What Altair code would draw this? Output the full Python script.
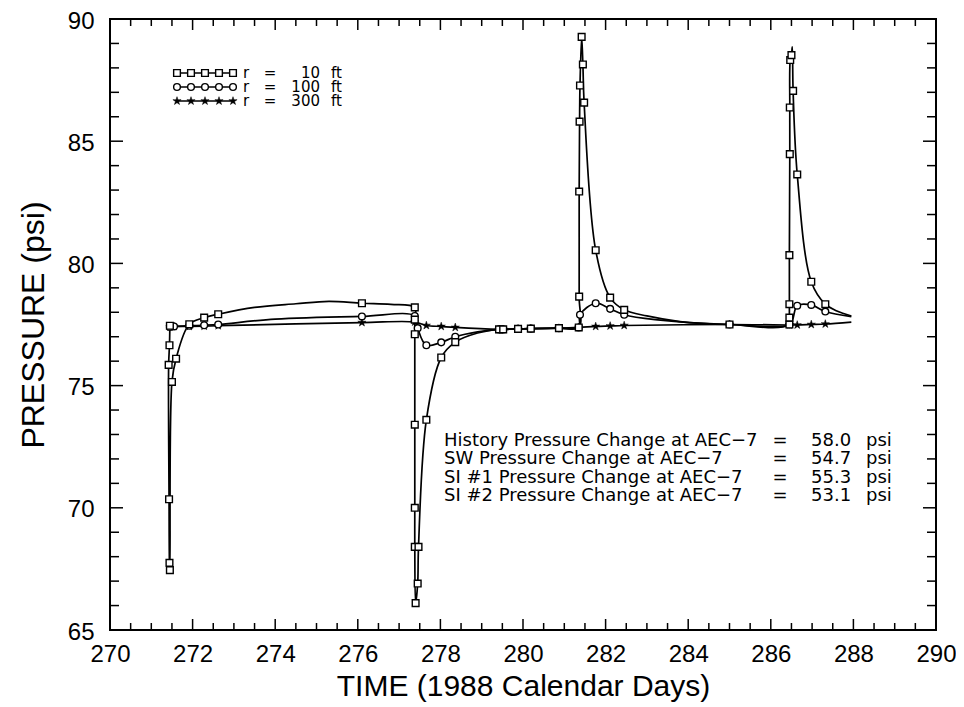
import altair as alt
import pandas as pd
import numpy as np

FONT = "Liberation Sans"
TFONT = "DejaVu Sans"

# ---- data -----------------------------------------------------------------
# r = 10 ft  (open squares); m = 1 where a marker is drawn
t10 = [271.45, 271.44, 271.42, 271.43, 271.44, 271.45, 271.50, 271.60, 271.92, 272.28,
       272.62, 273.50, 274.50, 275.30, 276.10, 276.80, 277.38, 277.38, 277.38, 277.38,
       277.38, 277.38, 277.40, 277.45, 277.47, 277.66, 278.02, 278.36, 278.90, 279.42,
       279.52, 279.88, 280.19, 280.87, 281.35, 281.36, 281.36, 281.37, 281.38, 281.42,
       281.45, 281.48, 281.76, 282.11, 282.45, 283.00, 283.80, 285.00, 286.45, 286.45,
       286.45, 286.45, 286.46, 286.46, 286.47, 286.50, 286.52, 286.54, 286.64, 286.98,
       287.32, 287.60, 287.95]
p10 = [77.45, 76.65, 75.85, 70.35, 67.75, 67.45, 75.15, 76.10, 77.51, 77.78,
       77.92, 78.20, 78.35, 78.45, 78.37, 78.32, 78.20, 77.70, 77.10, 73.40,
       70.00, 68.40, 66.10, 66.90, 68.40, 73.60, 76.15, 76.78, 77.15, 77.30,
       77.30, 77.32, 77.33, 77.35, 77.38, 78.64, 82.94, 85.80, 87.28, 89.27,
       88.14, 86.58, 80.54, 78.60, 78.10, 77.85, 77.62, 77.50, 77.50, 77.78,
       78.33, 80.34, 84.47, 86.38, 88.32, 88.52, 88.86, 87.06, 83.64, 79.25,
       78.33, 78.05, 77.85]
m10 = [1, 1, 1, 1, 1, 1, 1, 1, 1, 1,
       1, 0, 0, 0, 1, 0, 1, 1, 1, 1,
       1, 1, 1, 1, 1, 1, 1, 1, 0, 1,
       1, 1, 1, 1, 1, 1, 1, 1, 1, 1,
       1, 1, 1, 1, 1, 0, 0, 1, 1, 1,
       1, 1, 1, 1, 1, 1, 0, 1, 1, 1,
       1, 0, 0]

# r = 100 ft (open circles)
t100 = [271.45, 271.55, 271.92, 272.28, 272.62, 274.00, 276.10, 277.38, 277.45, 277.66,
        278.02, 278.36, 278.90, 279.42, 279.52, 279.88, 280.19, 280.87, 281.35, 281.38,
        281.76, 282.11, 282.45, 283.20, 285.00, 286.45, 286.64, 286.98, 287.32, 287.95]
p100 = [77.40, 77.42, 77.45, 77.47, 77.50, 77.72, 77.83, 77.85, 77.35, 76.65,
        76.77, 77.00, 77.20, 77.30, 77.30, 77.32, 77.33, 77.35, 77.38, 77.90,
        78.37, 78.14, 77.90, 77.70, 77.50, 77.50, 78.27, 78.30, 78.03, 77.82]
m100 = [1, 1, 1, 1, 1, 0, 1, 1, 1, 1,
        1, 1, 0, 1, 1, 1, 1, 1, 1, 1,
        1, 1, 1, 0, 1, 1, 1, 1, 1, 0]

# r = 300 ft (filled stars)
t300 = [271.45, 271.55, 271.92, 272.28, 272.62, 276.10, 277.38, 277.66, 278.02, 278.36,
        279.42, 279.52, 279.88, 280.19, 280.87, 281.35, 281.76, 282.11, 282.45, 285.00,
        286.45, 286.64, 286.98, 287.32, 287.95]
p300 = [77.40, 77.42, 77.42, 77.43, 77.45, 77.58, 77.60, 77.46, 77.42, 77.38,
        77.30, 77.30, 77.32, 77.33, 77.35, 77.38, 77.42, 77.44, 77.46, 77.50,
        77.48, 77.48, 77.50, 77.52, 77.60]
m300 = [1, 1, 1, 1, 1, 1, 1, 1, 1, 1,
        1, 1, 1, 1, 1, 1, 1, 1, 1, 1,
        1, 1, 1, 1, 0]

legend_radii = ["10", "100", "300"]
note_labels = ["History Pressure Change at AEC\u22127",
               "SW Pressure Change at AEC\u22127",
               "SI #1 Pressure Change at AEC\u22127",
               "SI #2 Pressure Change at AEC\u22127"]
note_values = ["58.0", "54.7", "55.3", "53.1"]

x_labels = [270, 272, 274, 276, 278, 280, 282, 284, 286, 288, 290]
y_labels = [65, 70, 75, 80, 85, 90]

# ---- layout ----------------------------------------------------------------
W, H = 826, 611
X0, X1, Y0, Y1 = 270, 290, 65, 90

xscale = alt.Scale(domain=[X0, X1], nice=False, zero=False)
yscale = alt.Scale(domain=[Y0, Y1], nice=False, zero=False)

xaxis = alt.Axis(values=x_labels, title="TIME (1988 Calendar Days)", labelFontSize=24,
                 labelPadding=12, titleFontSize=30, titlePadding=5, labelFlush=False,
                 labelOverlap=False, ticks=False, domain=False, grid=False)
yaxis = alt.Axis(values=y_labels, title="PRESSURE (psi)", labelFontSize=24,
                 labelPadding=16, labelOffset=2, titleFontSize=32, titlePadding=17,
                 labelFlush=False, labelOverlap=False, ticks=False, domain=False, grid=False)

X = lambda f="t": alt.X(f"{f}:Q", scale=xscale, axis=xaxis)
Y = lambda f="p": alt.Y(f"{f}:Q", scale=yscale, axis=yaxis)

STAR = "M0,-1L0.2245,-0.309L0.951,-0.309L0.363,0.118L0.588,0.809L0,0.382L-0.588,0.809L-0.363,0.118L-0.951,-0.309L-0.2245,-0.309Z"


def sdf(t, p, m):
    return pd.DataFrame({"t": t, "p": p, "m": m, "i": range(len(t))})


def line(df):
    return alt.Chart(df).mark_line(color="black", strokeWidth=1.7,
                                   interpolate="catmull-rom").encode(x=X(), y=Y(), order="i:Q")


def marks(df, kind):
    d = df[df["m"] == 1]
    if kind == "square":
        mk = alt.Chart(d).mark_point(shape="square", filled=True, fill="white", stroke="black",
                                     strokeWidth=1.4, size=45, opacity=1)
    elif kind == "circle":
        mk = alt.Chart(d).mark_point(shape="circle", filled=True, fill="white", stroke="black",
                                     strokeWidth=1.4, size=45, opacity=1)
    else:
        mk = alt.Chart(d).mark_point(shape=STAR, filled=True, fill="black", stroke="black",
                                     strokeWidth=0.5, size=75, opacity=1)
    return mk.encode(x=X(), y=Y())


d10, d100, d300 = sdf(t10, p10, m10), sdf(t100, p100, m100), sdf(t300, p300, m300)

layers = [line(d300), line(d100), line(d10), marks(d300, "star"), marks(d100, "circle"),
          marks(d10, "square")]

# ---- inward ticks on all four sides ----------------------------------------
def xticks(vals, length):
    df = pd.DataFrame({"t": vals})
    b = alt.Chart(df).mark_rule(color="black", strokeWidth=1.5).encode(
        x=X(), y=alt.value(H), y2=alt.value(H - length))
    t = alt.Chart(df).mark_rule(color="black", strokeWidth=1.5).encode(
        x=X(), y=alt.value(0), y2=alt.value(length))
    return [b, t]


def yticks(vals, length):
    df = pd.DataFrame({"p": vals})
    l = alt.Chart(df).mark_rule(color="black", strokeWidth=1.5).encode(
        y=Y(), x=alt.value(0), x2=alt.value(length))
    r = alt.Chart(df).mark_rule(color="black", strokeWidth=1.5).encode(
        y=Y(), x=alt.value(W), x2=alt.value(W - length))
    return [l, r]


xmaj = list(np.arange(X0, X1 + 0.01, 2.0))
xmin = [v for v in np.arange(X0, X1 + 0.01, 0.5) if v not in xmaj]
ymaj = list(np.arange(Y0, Y1 + 0.01, 5.0))
ymin = [v for v in np.arange(Y0, Y1 + 0.01, 1.0) if v not in ymaj]
layers += xticks(xmaj, 11) + xticks(xmin, 7) + yticks(ymaj, 13) + yticks(ymin, 9)

# ---- legend (top left) ------------------------------------------------------
one = pd.DataFrame({"a": [0]})
LX0, LDX, LY0, LDY = 67, 14, 54, 14   # pixels inside plot area
for k, kind in enumerate(["square", "circle", "star"]):
    ypx = LY0 + k * LDY
    pts = pd.DataFrame({"t": [X0 + (LX0 + j * LDX) / W * (X1 - X0) for j in range(5)],
                        "p": [Y1 - ypx / H * (Y1 - Y0)] * 5, "m": [1] * 5, "i": range(5)})
    layers.append(alt.Chart(pts).mark_line(color="black", strokeWidth=1.5).encode(x=X(), y=Y()))
    layers.append(marks(pts, kind))


def ltext(lines, xpx, align):
    return alt.Chart(one).mark_text(text=lines, align=align, baseline="middle", fontSize=15,
                                    font=TFONT, lineHeight=LDY, color="black").encode(
        x=alt.value(xpx), y=alt.value(LY0))


layers += [ltext(["r", "r", "r"], 133, "left"),
           ltext(["=", "=", "="], 160, "center"),
           ltext(legend_radii, 210, "right"),
           ltext(["ft", "ft", "ft"], 221, "left")]

# ---- annotation block ------------------------------------------------------
NX, NY, NDY = 334, 422, 18.3


def ntext(lines, xpx, align):
    return alt.Chart(one).mark_text(text=lines, align=align, baseline="middle", fontSize=18,
                                    font=TFONT, lineHeight=NDY, color="black").encode(
        x=alt.value(xpx), y=alt.value(NY))


layers += [ntext(note_labels, NX, "left"),
           ntext(["="] * 4, 670, "center"),
           ntext(note_values, 701, "left"),
           ntext(["psi"] * 4, 756, "left")]

chart = alt.layer(*layers).properties(
    width=W, height=H,
    autosize=alt.AutoSizeParams(type="none"),
    padding={"left": 102, "top": 11, "right": 20, "bottom": 76},
).configure_axis(
    labelFont=FONT, titleFont=FONT, labelColor="black", titleColor="black",
    titleFontWeight="normal",
).configure_view(stroke="black", strokeWidth=2)

chart.save("out.html", embed_options={"renderer": "svg", "actions": False})
